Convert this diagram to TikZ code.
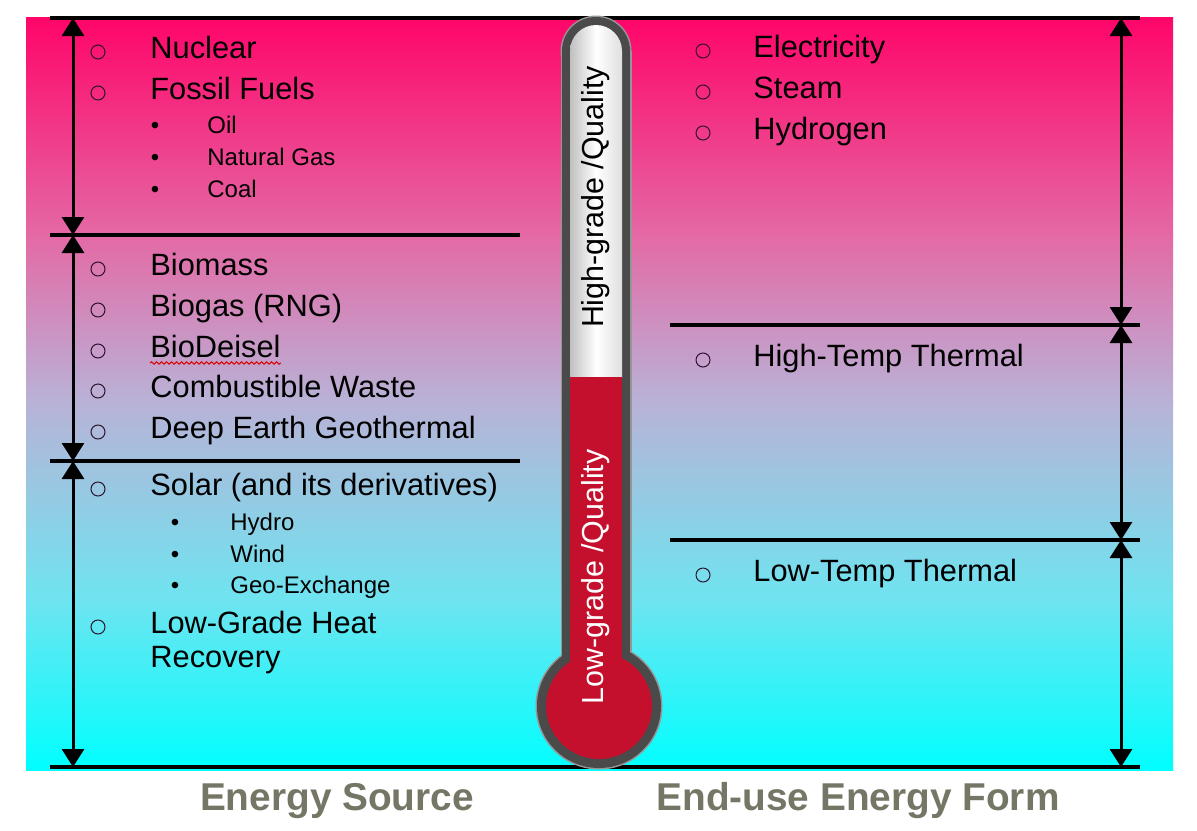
\documentclass[tikz,border=0pt]{standalone}
\usepackage{fontspec}
\setmainfont{Liberation Sans}
\usetikzlibrary{arrows.meta,decorations.pathmorphing}
\definecolor{bgA}{RGB}{255,5,105}
\definecolor{bgB}{RGB}{228,105,165}
\definecolor{bgC}{RGB}{185,178,215}
\definecolor{bgD}{RGB}{110,228,240}
\definecolor{bgE}{RGB}{0,255,255}
\definecolor{tgray}{RGB}{74,74,74}
\definecolor{tedge}{RGB}{150,150,150}
\definecolor{tred}{RGB}{196,16,44}
\definecolor{labgray}{RGB}{118,118,102}
\definecolor{bulcol}{RGB}{45,20,45}
\tikzset{
  hline/.style={line width=1.6pt, black},
  dblarrow/.style={line width=1.5pt, {Triangle[width=11pt,length=9pt]}-{Triangle[width=11pt,length=9pt]}},
  mainitem/.style={anchor=base west, inner sep=0pt, font=\fontsize{15.4pt}{18pt}\selectfont},
  subitem/.style={anchor=base west, inner sep=0pt, font=\fontsize{12pt}{14pt}\selectfont},
  obul/.style={circle, draw=bulcol, line width=0.5pt, inner sep=0pt, minimum size=7pt, yshift=3pt},
  dbul/.style={anchor=base, inner sep=0pt, font=\fontsize{12pt}{14pt}\selectfont},
  thermtext/.style={rotate=90, inner sep=0pt, font=\fontsize{15.2pt}{18pt}\selectfont},
  footlabel/.style={anchor=base, inner sep=0pt, text=labgray, font=\bfseries\fontsize{19.4pt}{22pt}\selectfont}
}
\begin{document}
\begin{tikzpicture}[x=0.5pt,y=-0.5pt]
\useasboundingbox (0,0) rectangle (1197,830);
\fill[white] (0,0) rectangle (1197,830);
% background gradient
\shade[top color=bgA, bottom color=bgB] (26,17) rectangle (1173,236);
\shade[top color=bgB, bottom color=bgC] (26,235) rectangle (1173,401);
\shade[top color=bgC, bottom color=bgD] (26,400) rectangle (1173,601);
\shade[top color=bgD, bottom color=bgE] (26,600) rectangle (1173,770);

% coordinates
\coordinate (L0a) at (50,18);   \coordinate (L0b) at (1140,18);
\coordinate (L1a) at (50,235);  \coordinate (L1b) at (520,235);
\coordinate (L2a) at (50,461);  \coordinate (L2b) at (520,461);
\coordinate (L3a) at (50,767);  \coordinate (L3b) at (1140,767);
\coordinate (R1a) at (670,325); \coordinate (R1b) at (1140,325);
\coordinate (R2a) at (670,540); \coordinate (R2b) at (1140,540);
\coordinate (A0) at (73,18);  \coordinate (A1) at (73,235);
\coordinate (A2) at (73,461); \coordinate (A3) at (73,767);
\coordinate (B0) at (1121,18);  \coordinate (B1) at (1121,325);
\coordinate (B2) at (1121,540); \coordinate (B3) at (1121,767);

% lines
\draw[hline] (L0a) -- (L0b);
\draw[hline] (L1a) -- (L1b);
\draw[hline] (L2a) -- (L2b);
\draw[hline] (L3a) -- (L3b);
\draw[hline] (R1a) -- (R1b);
\draw[hline] (R2a) -- (R2b);

% arrows
\draw[dblarrow] (A0) -- (A1);
\draw[dblarrow] (A1) -- (A2);
\draw[dblarrow] (A2) -- (A3);
\draw[dblarrow] (B0) -- (B1);
\draw[dblarrow] (B1) -- (B2);
\draw[dblarrow] (B2) -- (B3);

% thermometer
\fill[tedge] (560.5,51) rectangle (631.5,680);
\fill[tedge] (596,51) circle (17.75pt);
\fill[tedge] (599,706) circle (31.75pt);
\fill[tgray] (562,51) rectangle (630,680);
\fill[tgray] (596,51) circle (17pt);
\fill[tgray] (599,706) circle (31pt);
\shade[left color=gray!50, right color=gray!25, middle color=white]
  (570,378) -- (570,51) arc[start angle=180, end angle=360, radius=26] -- (622,378) -- cycle;
\fill[tred] (570,377) rectangle (622,680);
\fill[tred] (599,706) circle (26.5pt);

\node[thermtext, text=black] (hq) at (596,197) {High-grade /Quality};
\node[thermtext, text=white] (lq) at (596,577) {Low-grade /Quality};

% left column
\node[obul] (o1) at (98,58) {};    \node[mainitem] (t1) at (150,58) {Nuclear};
\node[obul] (o2) at (98,99) {};    \node[mainitem] (t2) at (150,99) {Fossil Fuels};
\node[dbul] (d1) at (155,133) {•}; \node[subitem] (s1) at (207,133) {Oil};
\node[dbul] (d2) at (155,165) {•}; \node[subitem] (s2) at (207,165) {Natural Gas};
\node[dbul] (d3) at (155,197) {•}; \node[subitem] (s3) at (207,197) {Coal};

\node[obul] (o3) at (98,275) {};   \node[mainitem] (t3) at (150,275) {Biomass};
\node[obul] (o4) at (98,316) {};   \node[mainitem] (t4) at (150,316) {Biogas (RNG)};
\node[obul] (o5) at (98,357) {};   \node[mainitem] (t5) at (150,357) {BioDeisel};
\node[obul] (o6) at (98,397) {};   \node[mainitem] (t6) at (150,397) {Combustible Waste};
\node[obul] (o7) at (98,438) {};   \node[mainitem] (t7) at (150,438) {Deep Earth Geothermal};
\draw[red!85!black, line width=0.5pt, decorate, decoration={snake, amplitude=0.6pt, segment length=2.5pt}]
  ([yshift=-3pt]t5.base west) -- ([yshift=-3pt]t5.base east);

\node[obul] (o8) at (98,495) {};   \node[mainitem] (t8) at (150,495) {Solar (and its derivatives)};
\node[dbul] (d4) at (175,530) {•}; \node[subitem] (s4) at (230,530) {Hydro};
\node[dbul] (d5) at (175,562) {•}; \node[subitem] (s5) at (230,562) {Wind};
\node[dbul] (d6) at (175,593) {•}; \node[subitem] (s6) at (230,593) {Geo-Exchange};
\node[obul] (o9) at (98,633) {};   \node[mainitem] (t9) at (150,633) {Low-Grade Heat};
\node[mainitem] (t10) at (150,667) {Recovery};

% right column
\node[obul] (p1) at (703,57) {};   \node[mainitem] (r1) at (753,57) {Electricity};
\node[obul] (p2) at (703,98) {};   \node[mainitem] (r2) at (753,98) {Steam};
\node[obul] (p3) at (703,139) {};  \node[mainitem] (r3) at (753,139) {Hydrogen};
\node[obul] (p4) at (703,366) {};  \node[mainitem] (r4) at (753,366) {High-Temp Thermal};
\node[obul] (p5) at (703,581) {};  \node[mainitem] (r5) at (753,581) {Low-Temp Thermal};

% footer labels
\node[footlabel] (f1) at (337,810) {Energy Source};
\node[footlabel] (f2) at (858,810) {End-use Energy Form};
\end{tikzpicture}
\end{document}
